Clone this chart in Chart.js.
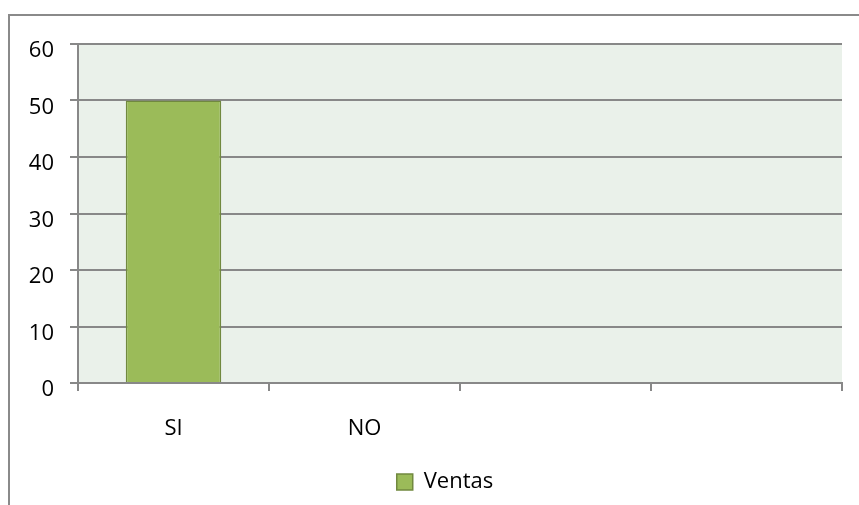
<!DOCTYPE html>
<html>
<head>
<meta charset="utf-8">
<script src="https://cdn.jsdelivr.net/npm/chart.js@4"></script>
<style>
  html, body { margin: 0; padding: 0; background: #fff; }
  #wrap { position: relative; width: 859px; height: 505px; }
  #frame {
    position: absolute; left: 8px; top: 14px; right: 0; bottom: 0;
    border-top: 2px solid #8a8a8a; border-left: 2px solid #8a8a8a;
  }
  canvas { position: absolute; left: 0; top: 0; }
</style>
</head>
<body>
<div id="wrap">
  <div id="frame"></div>
  <canvas id="chart" width="859" height="505"></canvas>
</div>
<script>
// Datos del gráfico
const categorias = ['SI', 'NO', '', ''];
const ventas = [50, 0, null, null];
const yMin = 0;
const yMax = 60;
const yPaso = 10;

const GRID = '#888888';
const FONT = { family: 'Open Sans', size: 22 };

// Fondo del área del gráfico
const fondoArea = {
    id: 'fondoArea',
    beforeDraw(chart) {
        const { ctx, chartArea: a } = chart;
        ctx.save();
        ctx.fillStyle = '#eaf1ea';
        ctx.fillRect(a.left, a.top, a.right - a.left, a.bottom - a.top);
        ctx.restore();
    }
};

// Leyenda un poco a la derecha, como en el original
const moverLeyenda = {
    id: 'moverLeyenda',
    afterLayout(chart) {
        const lg = chart.legend;
        if (!lg) return;
        lg.left += 24;
        lg.right += 24;
    }
};

new Chart(document.getElementById('chart'), {
    type: 'bar',
    data: {
        labels: categorias,
        datasets: [{
            label: 'Ventas',
            data: ventas,
            backgroundColor: '#9bbb59',
            borderColor: '#71893f',
            borderWidth: 1.5,
            barPercentage: 0.5,
            categoryPercentage: 1.0,
        }],
    },
    options: {
        responsive: false,
        animation: false,
        layout: { padding: { top: 44, right: 17, left: 0, bottom: 2 } },
        plugins: {
            tooltip: { enabled: false },
            legend: {
                position: 'bottom',
                labels: {
                    color: '#000',
                    font: FONT,
                    boxWidth: 16,
                    boxHeight: 16,
                    padding: 6,
                },
            },
        },
        scales: {
            x: {
                grid: {
                    offset: true,
                    drawOnChartArea: false,
                    color: GRID,
                    lineWidth: 2,
                    tickLength: 8,
                },
                border: { color: GRID, width: 2 },
                ticks: { color: '#000', font: FONT, padding: 25 },
                afterFit(scale) { scale.height = 82; },
            },
            y: {
                min: yMin,
                max: yMax,
                grid: { color: GRID, lineWidth: 2, tickLength: 8 },
                border: { color: GRID, width: 2 },
                ticks: { stepSize: yPaso, color: '#000', font: FONT, padding: 16, labelOffset: 7 },
                afterFit(scale) { scale.width = 78; },
            },
        },
    },
    plugins: [fondoArea, moverLeyenda],
});
</script>
</body>
</html>
